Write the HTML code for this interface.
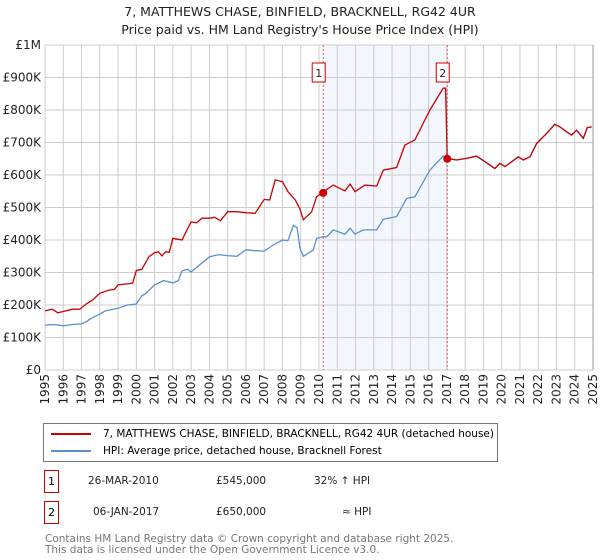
<!DOCTYPE html>
<html><head><meta charset="utf-8"><style>
body{margin:0;background:#fff;font-family:"DejaVu Sans","Liberation Sans",sans-serif;}
#wrap{position:relative;width:600px;height:560px;overflow:hidden}
.t{position:absolute;font-size:12px;color:#222;white-space:nowrap}
</style></head><body><div id="wrap">
<svg id="svg" width="600" height="420" style="position:absolute;left:0;top:0" font-family="DejaVu Sans, Liberation Sans, sans-serif"></svg>
<div style="position:absolute;left:43px;top:423px;width:453px;height:37px;border:1px solid #777;">
 <div style="position:absolute;left:7px;top:4px;font-size:10.5px;white-space:nowrap"><span style="display:inline-block;width:40px;height:2px;background:#cc0000;vertical-align:middle;margin-right:12px"></span>7, MATTHEWS CHASE, BINFIELD, BRACKNELL, RG42 4UR (detached house)</div>
 <div style="position:absolute;left:7px;top:21px;font-size:10.5px;white-space:nowrap"><span style="display:inline-block;width:40px;height:2px;background:#5b8fd0;vertical-align:middle;margin-right:12px"></span>HPI: Average price, detached house, Bracknell Forest</div>
</div>
<div style="position:absolute;left:44px;top:470px;width:13px;height:21px;border:1px solid #cc0000;font-size:11px;line-height:21px;text-align:center">1</div>
<div class="t" style="left:88px;top:475px;font-size:10.5px">26-MAR-2010</div>
<div class="t" style="left:216px;top:475px;font-size:10.5px">£545,000</div>
<div class="t" style="left:314px;top:475px;font-size:10.5px">32% ↑ HPI</div>
<div style="position:absolute;left:44px;top:501px;width:13px;height:21px;border:1px solid #cc0000;font-size:11px;line-height:21px;text-align:center">2</div>
<div class="t" style="left:93px;top:506px;font-size:10.5px">06-JAN-2017</div>
<div class="t" style="left:216px;top:506px;font-size:10.5px">£650,000</div>
<div class="t" style="left:342px;top:506px;font-size:10.5px">≈ HPI</div>
<div class="t" style="left:45px;top:534px;font-size:10.5px;color:#777;line-height:11px">Contains HM Land Registry data © Crown copyright and database right 2025.<br>This data is licensed under the Open Government Licence v3.0.</div>
</div>
<script>
const hpiYears=[1995,1995.5,1996,1996.5,1997,1997.3,1997.5,1998,1998.3,1999,1999.5,2000,2000.3,2000.5,2001,2001.5,2002,2002.3,2002.5,2002.8,2003,2003.5,2004,2004.5,2005,2005.5,2006,2006.5,2007,2007.5,2008,2008.3,2008.6,2008.8,2008.96,2009.14,2009.69,2009.87,2010.18,2010.42,2010.78,2011.42,2011.7,2011.97,2012.43,2013.16,2013.52,2014.25,2014.8,2015.25,2016.07,2016.8,2017.07,2017.53,2018.07,2018.62,2019.08,2019.63,2019.9,2020.18,2020.91,2021.18,2021.55,2021.91,2022.46,2022.91,2023.19,2023.55,2023.83,2024.1,2024.47,2024.69,2024.93];
const hpiValues=[138,140,136,140,142,150,158,172,182,190,200,203,228,235,262,275,268,275,305,310,302,325,348,355,352,350,370,367,366,385,400,398,445,438,374,350,369,405,410,410,431,418,436,418,431,431,464,472,528,533,615,658,651,646,651,658,641,620,636,626,656,646,656,697,728,756,748,733,723,738,713,746,748];
const redYears=[1995,1995.4,1995.7,1996,1996.5,1996.9,1997.3,1997.6,1998,1998.5,1998.8,1999,1999.5,1999.8,2000,2000.3,2000.7,2001,2001.2,2001.4,2001.6,2001.8,2002,2002.3,2002.5,2003,2003.3,2003.6,2004,2004.3,2004.6,2005,2005.5,2006,2006.5,2007,2007.3,2007.6,2008,2008.3,2008.7,2008.96,2009.14,2009.6,2009.87,2010.18,2010.78,2011.42,2011.7,2011.97,2012.52,2013.16,2013.52,2014.25,2014.7,2015.25,2016.07,2016.8,2016.93,2017.02,2017.53,2018.07,2018.62,2019.08,2019.63,2019.9,2020.18,2020.91,2021.18,2021.55,2021.91,2022.46,2022.91,2023.19,2023.55,2023.83,2024.1,2024.47,2024.69,2024.93];
const redValues=[182,187,176,180,187,187,205,215,236,246,248,262,265,267,306,310,349,361,364,351,364,362,405,402,400,456,453,467,467,470,459,487,487,484,482,525,523,585,579,549,523,495,462,487,533,546,569,551,572,549,569,566,615,623,692,708,800,867,867,651,646,651,658,641,620,636,626,656,646,656,697,728,756,748,733,723,738,713,746,748];
const saleYears=[2010.23,2017.02];
const saleValues=[545,650];
const saleLabels=["1","2"];
const yTicks=[0,100,200,300,400,500,600,700,800,900,1000];
const yTickLabels=["£0","£100K","£200K","£300K","£400K","£500K","£600K","£700K","£800K","£900K","£1M"];
const xTicks=[1995,1996,1997,1998,1999,2000,2001,2002,2003,2004,2005,2006,2007,2008,2009,2010,2011,2012,2013,2014,2015,2016,2017,2018,2019,2020,2021,2022,2023,2024,2025];

const L=45,R=593,T=45,B=370;
const x=v=>L+(v-1995)/30*(R-L);
const y=v=>B-v/1000*(B-T);
const svg=document.getElementById('svg');
const NS='http://www.w3.org/2000/svg';
function mk(tag,attrs,parent){const e=document.createElementNS(NS,tag);for(const k in attrs)e.setAttribute(k,attrs[k]);(parent||svg).appendChild(e);return e;}

const shade=mk('rect',{x:x(saleYears[0]),y:T,width:x(saleYears[1])-x(saleYears[0]),height:B-T,fill:'#eef3fc',opacity:0.7});


xTicks.forEach(v=>{const l=mk('line',{x1:x(v),x2:x(v),y1:T,y2:B,stroke:'#ccc','stroke-width':1});


const t=mk('text',{x:0,y:0,'font-size':12,fill:'#222','text-anchor':'end',transform:`translate(${x(v)+4},${B+4}) rotate(-90)`});t.textContent=v;

});
yTicks.forEach((v,i)=>{const l=mk('line',{x1:L,x2:R,y1:y(v),y2:y(v),stroke:'#ccc','stroke-width':1});


const t=mk('text',{x:L-4,y:y(v)+4,'font-size':12,fill:'#222','text-anchor':'end'});t.textContent=yTickLabels[i];

});
const ax=mk('line',{x1:R,x2:R,y1:T,y2:B,stroke:'#999','stroke-width':1});


saleYears.forEach((v,i)=>{const l=mk('line',{x1:x(v),x2:x(v),y1:T,y2:B,stroke:'#e05050','stroke-width':1,'stroke-dasharray':'2,2'});

});
const hp=mk('path',{d:hpiYears.map((v,i)=>(i?'L':'M')+x(v).toFixed(1)+','+y(hpiValues[i]).toFixed(1)).join(''),fill:'none',stroke:'#5b8fd0','stroke-width':1.3});


const rp=mk('path',{d:redYears.map((v,i)=>(i?'L':'M')+x(v).toFixed(1)+','+y(redValues[i]).toFixed(1)).join(''),fill:'none',stroke:'#cc0000','stroke-width':1.3});


saleYears.forEach((v,i)=>{const c=mk('circle',{cx:x(v),cy:y(saleValues[i]),r:4,fill:'#cc0000'});


const b=mk('rect',{x:x(v)-11,y:63,width:13,height:19,fill:'#fff',stroke:'#cc0000'});


const t=mk('text',{x:x(v)-4.5,y:77,'font-size':11,fill:'#222','text-anchor':'middle'});t.textContent=saleLabels[i];

});
const t1=mk('text',{x:300,y:16,'font-size':12.5,fill:'#222','text-anchor':'middle'});t1.textContent="7, MATTHEWS CHASE, BINFIELD, BRACKNELL, RG42 4UR";


const t2=mk('text',{x:300,y:34,'font-size':12.5,fill:'#222','text-anchor':'middle'});t2.textContent="Price paid vs. HM Land Registry's House Price Index (HPI)";


</script></body></html>
